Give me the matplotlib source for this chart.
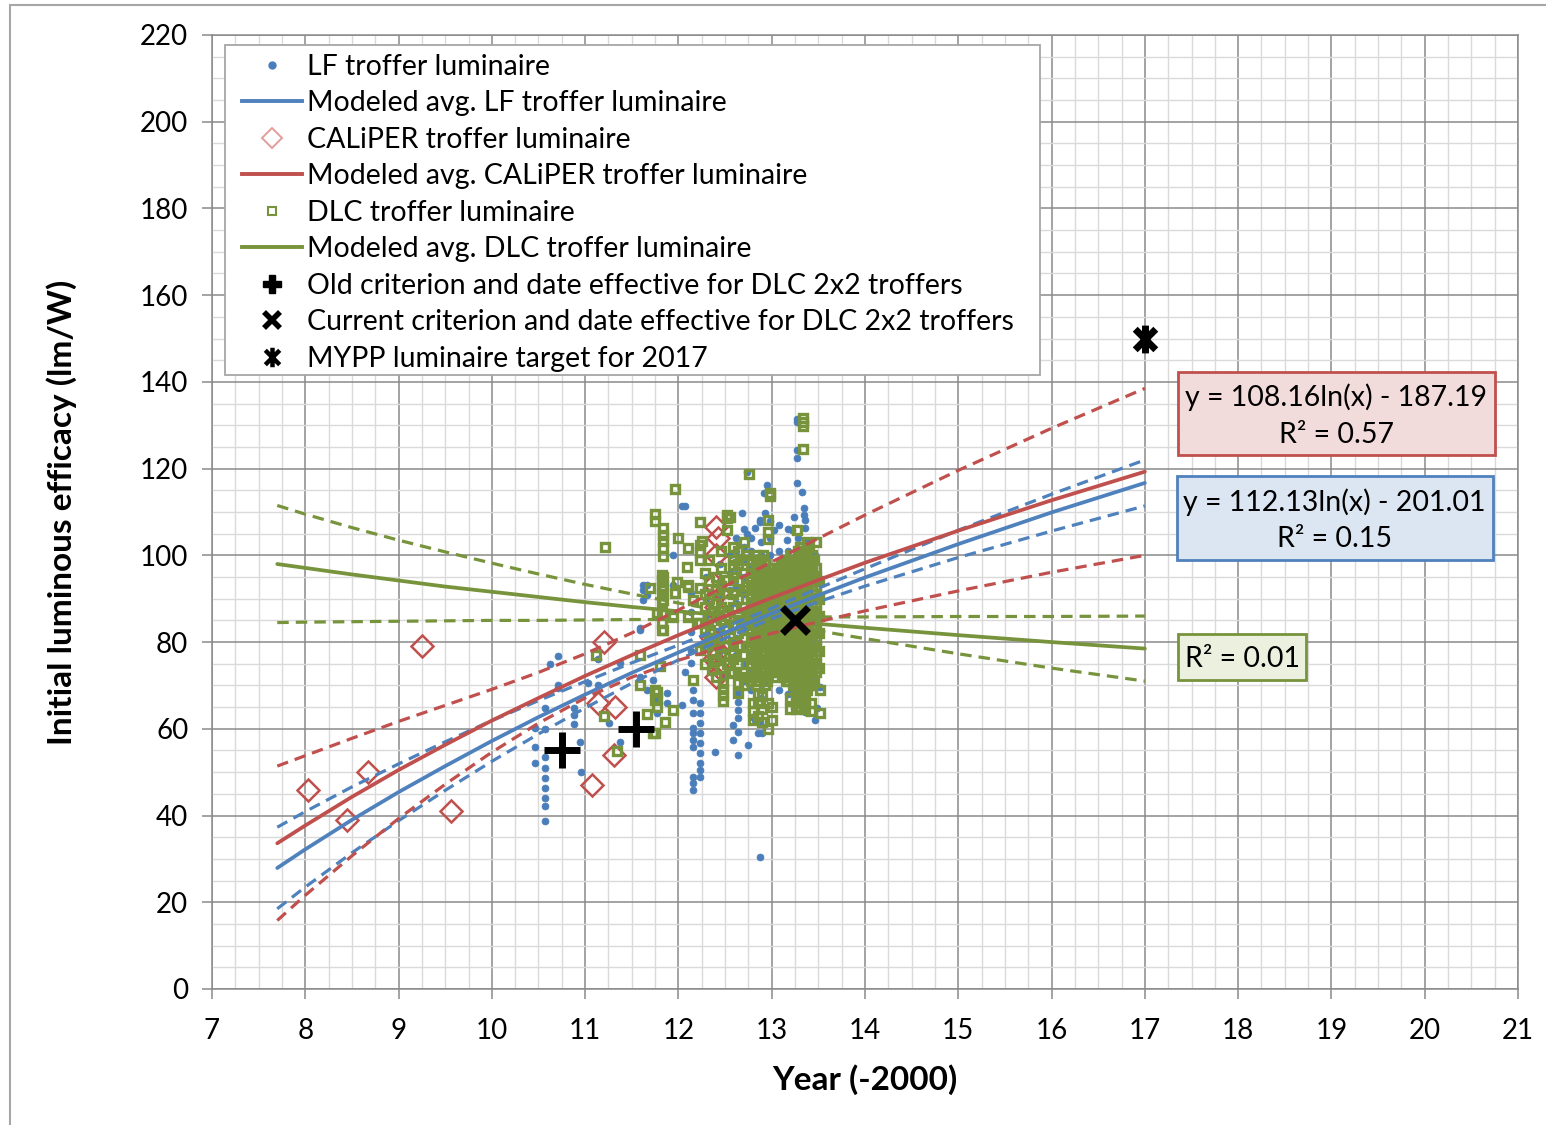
import matplotlib
matplotlib.use("Agg")
import matplotlib.pyplot as plt
from matplotlib.lines import Line2D
from matplotlib.patches import Rectangle
from matplotlib.path import Path
from matplotlib.ticker import MultipleLocator

plt.rcParams['font.family'] = ['Lato', 'DejaVu Sans']

# ---------------- data ----------------
# LF troffer luminaires (blue dots): (year-2000, [efficacies])
lf_columns = [
    (10.46, [60.2, 55.8, 52.1]),
    (10.57, [64.8, 60.0, 53.5, 51.0, 48.6, 46.4, 44.1, 42.2, 38.7]),
    (10.62, [75.0]),
    (10.71, [76.8, 70.1, 69.3]),
    (10.88, [64.8, 63.2, 61.1]),
    (10.94, [57.0]),
    (10.96, [50.0]),
    (11.03, [70.6]),
    (11.14, [70.1, 76.1]),
    (11.26, [61.3]),
    (11.37, [75.2, 57.0]),
    (11.59, [83.3, 82.8, 72.0]),
    (11.62, [93.2, 92.0, 89.7]),
    (11.66, [93.2, 90.9, 69.0]),
    (11.73, [71.3]),
    (11.75, [66.6]),
    (11.77, [63.7]),
    (11.88, [66.0, 68.2]),
    (11.94, [100.0, 93.2]),
    (12.04, [111.4, 65.5]),
    (12.07, [111.4, 73.0]),
    (12.14, [91.3, 87.0, 82.3, 78.0, 75.2]),
    (12.16, [69.0, 66.6, 63.7, 60.2, 59.0, 57.4, 55.8, 48.9, 47.5, 45.9]),
    (12.23, [66.0, 63.7, 61.3, 59.0, 56.7, 54.4, 52.1, 50.5, 48.9]),
    (12.30, [95.0, 90.0, 86.0, 80.0]),
    (12.39, [54.6]),
    (12.45, [98.0, 94.0, 90.0, 86.0, 82.0, 78.0]),
    (12.48, [72.0]),
    (12.55, [100.0, 96.0, 92.0, 88.0, 84.0, 80.0, 76.0]),
    (12.58, [60.9, 57.4]),
    (12.62, [104.0, 101.0, 97.0, 93.0, 89.0, 85.0, 81.0, 77.0, 73.0]),
    (12.64, [68.3, 66.2, 64.3, 62.5, 59.3, 54.0, 99.6]),
    (12.68, [109.8]),
    (12.70, [106.0, 102.0, 99.0, 95.0, 91.0, 87.0, 83.0, 79.0, 75.0, 71.0]),
    (12.73, [119.2, 105.0]),
    (12.75, [56.3]),
    (12.78, [104.0, 101.0, 97.0, 93.0, 89.0, 85.0, 81.0, 77.0, 73.0, 69.0]),
    (12.80, [62.7]),
    (12.82, [62.0, 106.3]),
    (12.85, [59.0]),
    (12.87, [108.2, 107.7, 61.6, 30.4]),
    (12.88, [103.0, 100.0, 96.0, 92.0, 88.0, 84.0, 80.0, 76.0, 72.0, 67.0]),
    (12.90, [59.0, 69.0]),
    (12.92, [114.4]),
    (12.93, [109.8]),
    (12.95, [116.2, 70.8]),
    (12.98, [108.0, 104.0, 100.0, 96.0, 92.0, 88.0, 84.0, 80.0, 76.0, 72.0]),
    (13.03, [105.9]),
    (13.08, [107.0, 101.0, 97.0, 93.0, 89.0, 85.0, 81.0, 77.0, 73.0, 69.0]),
    (13.16, [103.5]),
    (13.18, [106.0, 101.0, 97.0, 93.0, 89.0, 85.0, 81.0, 77.0, 73.0, 68.0]),
    (13.22, [69.0, 105.9]),
    (13.24, [108.9]),
    (13.27, [131.5, 130.8, 124.3, 122.5, 116.7]),
    (13.28, [104.0, 100.0, 96.0, 92.0, 88.0, 84.0, 80.0, 76.0, 72.0, 67.0]),
    (13.33, [114.6]),
    (13.35, [110.9, 109.3]),
    (13.36, [108.2, 106.3, 63.9]),
    (13.38, [103.0, 99.0, 95.0, 91.0, 87.0, 83.0, 79.0, 75.0, 71.0, 66.0]),
    (13.46, [100.0, 95.0, 90.0, 85.0, 80.0, 75.0, 62.0, 70.8]),
    (13.49, [64.8]),
    (13.52, [69.7]),
]

# CALiPER troffer luminaires (red diamonds)
caliper_x = [8.03, 8.45, 8.67, 9.25, 9.56, 11.07, 11.14, 11.20, 11.31, 11.32,
             12.40, 12.42, 12.40, 12.38, 12.44, 12.40, 12.46, 12.36, 12.42, 12.38, 12.44, 12.40]
caliper_y = [46.0, 39.0, 50.0, 79.0, 41.0, 47.0, 66.0, 80.0, 54.0, 65.0,
             106.5, 104.0, 100.0, 93.5, 91.5, 88.0, 86.0, 81.0, 78.0, 76.0, 74.0, 72.0]

# DLC troffer luminaires (green squares)
dlc_columns = [
    (11.12, [77.0]),
    (11.20, [63.0]),
    (11.21, [102.0]),
    (11.34, [54.9]),
    (11.59, [77.0, 70.0]),
    (11.66, [63.3]),
    (11.70, [92.5]),
    (11.73, [59.0]),
    (11.75, [109.5, 108.0, 69.0, 66.6, 59.0]),
    (11.77, [86.7, 68.5, 66.8, 65.0]),
    (11.80, [74.4]),
    (11.82, [95.5, 94.4, 92.8, 91.2, 89.0, 86.5, 84.4, 82.8]),
    (11.84, [106.3, 104.8, 103.2, 101.7, 99.8, 95.0, 93.0, 92.0, 89.7, 82.8]),
    (11.86, [61.6]),
    (11.94, [85.8, 64.3]),
    (11.96, [115.3, 91.3]),
    (11.98, [93.9]),
    (12.00, [104.0]),
    (12.09, [97.3]),
    (12.10, [101.7, 93.2, 92.7, 85.8]),
    (12.16, [89.7, 71.3]),
    (12.20, [84.4]),
    (12.23, [107.7, 102.4, 100.8, 99.0, 92.5, 84.4, 78.2]),
    (12.25, [103.3]),
    (12.28, [96.0, 91.0, 88.0, 83.0, 79.0, 75.0]),
    (12.33, [99.0, 94.0, 90.0, 86.0, 81.0]),
    (12.34, [82.8, 80.5]),
    (12.36, [77.5, 73.6]),
    (12.40, [95.0, 92.0, 89.0, 84.0, 80.0, 76.0, 72.0]),
    (12.46, [101.0, 97.0, 93.0, 88.0, 85.0, 81.0, 77.0, 74.0]),
    (12.48, [70.6, 69.2, 67.8, 66.4]),
    (12.52, [109.3, 108.6, 105.9, 94.3, 91.3, 87.0, 83.0, 79.0, 75.0]),
    (12.55, [108.9, 72.9]),
    (12.58, [99.0, 95.0, 91.0, 88.0, 84.0, 80.0, 76.0, 73.0]),
    (12.59, [102.0, 97.8, 77.5]),
    (12.64, [101.0, 98.0, 94.0, 90.0, 86.0, 82.0, 79.0, 75.0, 70.6, 68.2]),
    (12.70, [103.0, 99.0, 96.0, 92.0, 88.0, 85.0, 81.0, 77.0, 73.0, 70.0]),
    (12.74, [100.0, 93.0, 86.0, 79.0, 72.0]),
    (12.76, [118.8]),
    (12.78, [71.0, 73.0, 75.0, 77.0, 79.0, 81.0, 83.0, 85.0, 87.0, 89.0, 91.0, 93.0, 95.0, 97.0]),
    (12.80, [66.0, 64.0, 62.0]),
    (12.805, [72.0, 76.0, 80.0, 84.0, 88.0, 92.0, 96.0]),
    (12.83, [70.0, 72.0, 74.0, 76.0, 78.0, 80.0, 82.0, 84.0, 86.0, 88.0, 90.0, 92.0, 94.0, 96.0, 98.0, 100.0]),
    (12.85, [68.0, 66.0, 63.0]),
    (12.855, [71.0, 75.0, 79.0, 83.0, 87.0, 91.0, 95.0, 99.0]),
    (12.88, [73.0, 75.0, 77.0, 79.0, 81.0, 83.0, 85.0, 87.0, 89.0, 91.0, 93.0, 95.0, 97.0, 99.0]),
    (12.90, [67.5, 64.5, 61.5]),
    (12.905, [72.0, 76.0, 80.0, 84.0, 88.0, 92.0, 96.0, 100.0]),
    (12.93, [70.0, 72.0, 74.0, 76.0, 78.0, 80.0, 82.0, 84.0, 86.0, 88.0, 90.0, 92.0, 94.0, 96.0, 98.0]),
    (12.955, [71.0, 75.0, 79.0, 83.0, 87.0, 91.0, 95.0]),
    (12.96, [108.2, 105.4, 103.8, 66.0, 60.0]),
    (12.98, [114.4, 113.6, 73.0, 75.0, 77.0, 79.0, 81.0, 83.0, 85.0, 87.0, 89.0, 91.0, 93.0, 95.0, 97.0]),
    (13.00, [65.0, 62.0]),
    (13.005, [74.0, 78.0, 82.0, 86.0, 90.0, 94.0]),
    (13.03, [72.0, 74.0, 76.0, 78.0, 80.0, 82.0, 84.0, 86.0, 88.0, 90.0, 92.0, 94.0, 96.0]),
    (13.055, [73.0, 77.0, 81.0, 85.0, 89.0, 93.0, 97.0]),
    (13.08, [75.0, 77.0, 79.0, 81.0, 83.0, 85.0, 87.0, 89.0, 91.0, 93.0, 95.0, 97.0]),
    (13.105, [74.0, 78.0, 82.0, 86.0, 90.0, 94.0, 98.0]),
    (13.13, [72.0, 74.0, 76.0, 78.0, 80.0, 82.0, 84.0, 86.0, 88.0, 90.0, 92.0, 94.0, 96.0, 98.0]),
    (13.155, [71.0, 75.0, 79.0, 83.0, 87.0, 91.0, 95.0, 99.0]),
    (13.18, [71.0, 73.0, 75.0, 77.0, 79.0, 81.0, 83.0, 85.0, 87.0, 89.0, 91.0, 93.0, 95.0, 97.0, 99.0]),
    (13.20, [67.0, 64.5]),
    (13.205, [72.0, 76.0, 80.0, 84.0, 88.0, 92.0, 96.0, 100.0]),
    (13.23, [70.0, 72.0, 74.0, 76.0, 78.0, 80.0, 82.0, 84.0, 86.0, 88.0, 90.0, 92.0, 94.0, 96.0, 98.0]),
    (13.255, [71.0, 75.0, 79.0, 83.0, 87.0, 91.0, 95.0, 99.0]),
    (13.26, [68.0, 66.0, 64.5]),
    (13.27, [105.9]),
    (13.28, [69.0, 71.0, 73.0, 75.0, 77.0, 79.0, 81.0, 83.0, 85.0, 87.0, 89.0, 91.0, 93.0, 95.0, 97.0, 99.0, 101.0]),
    (13.30, [67.5, 65.0]),
    (13.305, [70.0, 74.0, 78.0, 82.0, 86.0, 90.0, 94.0, 98.0, 102.0]),
    (13.33, [68.0, 70.0, 72.0, 74.0, 76.0, 78.0, 80.0, 82.0, 84.0, 86.0, 88.0, 90.0, 92.0, 94.0, 96.0, 98.0, 100.0, 102.0]),
    (13.34, [131.7, 130.8, 129.9, 124.5]),
    (13.355, [69.0, 73.0, 77.0, 81.0, 85.0, 89.0, 93.0, 97.0, 101.0]),
    (13.36, [67.0, 64.5]),
    (13.38, [69.0, 71.0, 73.0, 75.0, 77.0, 79.0, 81.0, 83.0, 85.0, 87.0, 89.0, 91.0, 93.0, 95.0, 97.0, 99.0, 101.0, 103.0]),
    (13.405, [70.0, 74.0, 78.0, 82.0, 86.0, 90.0, 94.0, 98.0, 102.0]),
    (13.42, [66.0, 64.0]),
    (13.43, [70.0, 72.0, 74.0, 76.0, 78.0, 80.0, 82.0, 84.0, 86.0, 88.0, 90.0, 92.0, 94.0, 96.0, 98.0, 100.0]),
    (13.455, [71.0, 75.0, 79.0, 83.0, 87.0, 91.0, 95.0, 99.0]),
    (13.48, [103.1, 73.0, 75.0, 77.0, 79.0, 81.0, 83.0, 85.0, 87.0, 89.0, 91.0, 93.0, 95.0, 97.0]),
    (13.505, [74.0, 78.0, 82.0, 86.0, 90.0, 94.0]),
    (13.52, [63.7, 69.0]),
]

# Modeled averages and dashed bands, read at these years
fit_x = [7.7, 8, 8.5, 9, 9.5, 10, 10.5, 11, 11.5, 12, 12.5, 13, 13.5, 14, 15, 16, 17]
lf_model = [27.9, 32.2, 39.0, 45.4, 51.4, 57.2, 62.7, 67.9, 72.9, 77.6, 82.2, 86.6, 90.8, 94.9, 102.6, 109.9, 116.7]
lf_upper = [37.3, 40.9, 46.6, 51.9, 57.0, 61.9, 66.5, 70.9, 75.2, 79.3, 83.5, 87.8, 92.4, 96.9, 105.8, 114.1, 122.0]
lf_lower = [18.5, 23.5, 31.4, 38.8, 45.8, 52.5, 58.8, 64.8, 70.5, 75.9, 80.9, 85.4, 89.3, 92.9, 99.5, 105.6, 111.4]
cal_model = [33.6, 37.7, 44.3, 50.5, 56.3, 61.9, 67.1, 72.2, 77.0, 81.6, 86.0, 90.2, 94.3, 98.3, 105.7, 112.7, 119.3]
cal_upper = [51.4, 53.8, 57.8, 61.7, 65.4, 69.1, 73.0, 77.3, 82.1, 87.4, 92.9, 98.5, 103.9, 109.3, 119.6, 129.3, 138.5]
cal_lower = [15.8, 21.6, 30.7, 39.3, 47.2, 54.6, 61.3, 67.1, 71.9, 75.8, 79.1, 82.0, 84.7, 87.2, 91.8, 96.1, 100.0]
dlc_model = [98.0, 97.1, 95.6, 94.2, 92.8, 91.6, 90.4, 89.2, 88.1, 87.1, 86.1, 85.1, 84.2, 83.3, 81.6, 80.0, 78.5]
dlc_upper = [111.5, 109.5, 106.4, 103.5, 100.8, 98.2, 95.7, 93.3, 91.1, 89.0, 87.1, 86.0, 85.8, 85.8, 85.9, 85.9, 86.0]
dlc_lower = [84.5, 84.6, 84.7, 84.8, 84.9, 85.0, 85.0, 85.1, 85.2, 85.2, 85.0, 84.2, 82.6, 80.8, 77.3, 74.0, 71.0]

old_crit_x = [10.75, 11.55]
old_crit_y = [55, 60]
cur_crit_x = [13.25]
cur_crit_y = [85]
mypp_x = [17]
mypp_y = [150]

legend_labels = [
    "LF troffer luminaire",
    "Modeled avg. LF troffer luminaire",
    "CALiPER troffer luminaire",
    "Modeled avg. CALiPER troffer luminaire",
    "DLC troffer luminaire",
    "Modeled avg. DLC troffer luminaire",
    "Old criterion and date effective for DLC 2x2 troffers",
    "Current criterion and date effective for DLC 2x2 troffers",
    "MYPP luminaire target for 2017",
]
cal_eq = "y = 108.16ln(x) - 187.19\nR\u00b2 = 0.57"
lf_eq = "y = 112.13ln(x) - 201.01\nR\u00b2 = 0.15"
dlc_eq = "R\u00b2 = 0.01"


def flatten(cols):
    xs, ys = [], []
    for x, yl in cols:
        xs += [x] * len(yl)
        ys += list(yl)
    return xs, ys


lf_x, lf_y = flatten(lf_columns)
dlc_x, dlc_y = flatten(dlc_columns)

# ---------------- style ----------------
BLUE = '#4a7ebb'
RED = '#c0504d'
GREEN = '#77933c'
FS = 20.5
W, H = 1546, 1125

fig = plt.figure(figsize=(W / 100, H / 100), dpi=100)
ax = fig.add_axes([0.1371, 0.1209, 0.8448, 0.8480])

ax.set_xlim(7, 21)
ax.set_ylim(0, 220)
ax.xaxis.set_major_locator(MultipleLocator(1))
ax.xaxis.set_minor_locator(MultipleLocator(0.25))
ax.yaxis.set_major_locator(MultipleLocator(20))
ax.yaxis.set_minor_locator(MultipleLocator(5))
ax.grid(which='minor', color='#dadada', lw=1.0, zorder=0)
ax.grid(which='major', color='#8a8a8a', lw=1.1, zorder=0)
ax.set_axisbelow(True)
for s in ax.spines.values():
    s.set_color('#8a8a8a')
    s.set_linewidth(1.1)
ax.tick_params(which='major', length=7, width=1.1, color='#8a8a8a',
               labelsize=20)
ax.tick_params(axis='y', which='major', pad=10)
ax.tick_params(axis='x', which='major', pad=14)
ax.tick_params(which='minor', length=0)

# scatter
ax.plot(lf_x, lf_y, ls='none', marker='o', ms=5.0, mfc=BLUE, mec=BLUE,
        mew=0.5, zorder=3)
ax.plot(caliper_x, caliper_y, ls='none', marker='D', ms=11.5, mfc='none',
        mec=RED, mew=1.8, zorder=4)
ax.plot(dlc_x, dlc_y, ls='none', marker='s', ms=6.4, mfc='none', mec=GREEN,
        mew=2.4, zorder=5)

# model lines
dash = (3.6, 2.2)
for model, up, lo, col in [(dlc_model, dlc_upper, dlc_lower, GREEN),
                           (lf_model, lf_upper, lf_lower, '#4f81bd'),
                           (cal_model, cal_upper, cal_lower, RED)]:
    ax.plot(fit_x, model, color=col, lw=2.7, zorder=6, solid_capstyle='round')
    ax.plot(fit_x, up, color=col, lw=2.3, dashes=dash, zorder=6)
    ax.plot(fit_x, lo, color=col, lw=2.3, dashes=dash, zorder=6)

# criteria markers
star_path = Path([(-1, -1), (1, 1), (-1, 1), (1, -1), (0, -1.35), (0, 1.35)],
                 [Path.MOVETO, Path.LINETO, Path.MOVETO, Path.LINETO,
                  Path.MOVETO, Path.LINETO])
ax.plot(old_crit_x, old_crit_y, ls='none', marker='+', ms=26, mew=5,
        color='black', zorder=8)
ax.plot(cur_crit_x, cur_crit_y, ls='none', marker='x', ms=19, mew=5,
        color='black', zorder=8)
ax.plot(mypp_x, mypp_y, ls='none', marker=star_path, ms=20, mew=5,
        color='black', zorder=8)

# equation boxes
def eq_box(x0, x1, y0, y1, fc, ec, txt):
    ax.add_patch(Rectangle((x0, y0), x1 - x0, y1 - y0, fc=fc, ec=ec, lw=2,
                           zorder=9))
    ax.text((x0 + x1) / 2, (y0 + y1) / 2 - 0.5, txt, ha='center', va='center',
            fontsize=FS, linespacing=1.5, zorder=10)

eq_box(17.355, 20.75, 123.2, 142.3, '#f2dcdb', RED, cal_eq)
eq_box(17.34, 20.73, 98.9, 118.3, '#dce6f2', '#4f81bd', lf_eq)
eq_box(17.355, 18.73, 71.3, 81.9, '#ebf1de', GREEN, dlc_eq)

# legend (frame drawn separately to match the padding)
def ax_px(px, py):
    return ((px - 212) / 1306, (989 - py) / 954)

lx0, ly1 = ax_px(225, 45)
lx1, ly0 = ax_px(1040, 375)
ax.add_patch(Rectangle((lx0, ly0), lx1 - lx0, ly1 - ly0, transform=ax.transAxes,
                       fc='white', ec='#a6a6a6', lw=1.3, zorder=10.5))

handles = [
    Line2D([], [], ls='none', marker='o', ms=5, color=BLUE),
    Line2D([], [], color='#4f81bd', lw=2.8),
    Line2D([], [], ls='none', marker='D', ms=10, mfc='none', mec='#e39c9a', mew=1.4),
    Line2D([], [], color=RED, lw=2.8),
    Line2D([], [], ls='none', marker='s', ms=5.5, mfc='none', mec=GREEN, mew=1.5),
    Line2D([], [], color=GREEN, lw=2.8),
    Line2D([], [], ls='none', marker='P', ms=13, color='black'),
    Line2D([], [], ls='none', marker='x', ms=11, mew=4, color='black'),
    Line2D([], [], ls='none', marker=star_path, ms=14, mew=3.2, color='black'),
]
anchor = ax_px(234, 45)
leg = ax.legend(handles, legend_labels, loc='upper left',
                bbox_to_anchor=anchor, borderaxespad=0,
                fontsize=FS, handlelength=2.1, handletextpad=0.18,
                labelspacing=0.37, borderpad=0.3, frameon=False)
leg.set_zorder(11)

# axis titles
fig.text(62 / W, 1 - 512 / H, "Initial luminous efficacy (lm/W)",
         rotation=90, ha='center', va='center', fontsize=24, fontweight='bold')
fig.text(865 / W, 1 - 1080 / H, "Year (-2000)", ha='center',
         va='center', fontsize=24, fontweight='bold')

# outer frame
fig.add_artist(Rectangle((10 / W, -0.05), 1.2, 1.05 - 5 / H,
                         transform=fig.transFigure, fill=False,
                         ec='#a6a6a6', lw=1.5))

fig.savefig('out.png', dpi=100)
